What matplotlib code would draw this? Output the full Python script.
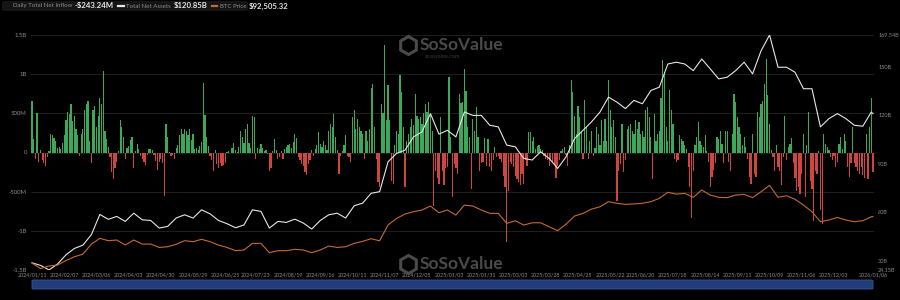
import numpy as np
import matplotlib
matplotlib.use("Agg")
import matplotlib.pyplot as plt
from matplotlib.patches import FancyBboxPatch, Circle
from matplotlib.lines import Line2D

plt.rcParams['font.family'] = ['Lato', 'DejaVu Sans']

# Daily total net inflow ($M), one value per trading day, 2024/01/11 .. 2026/01/06
net_inflow = [
    655, 175, -80, 500, -125, 30, -100, -140, -170, -60,
    20, 240, 220, 190, 150, 60, 70, 50, 120, 220,
    410, 520, 490, 620, 400, 470, 300, 220, -40, 240,
    300, 540, 620, 660, 150, -140, 540, 590, 330, 470,
    690, 620, 1040, 280, 170, 70, -60, -250, -340, -200,
    -120, 20, 420, 330, 200, -80, 60, 80, 160, 200,
    -200, 20, 110, 40, -40, -80, -120, -160, -30, 50,
    50, 30, -30, -110, -220, -120, -80, -140, -560, 370,
    200, 10, -40, -30, -80, 60, 90, 220, 300, 240,
    300, 280, 220, 300, 160, 240, 50, 60, 30, 80,
    130, 890, 480, 200, 80, -40, -100, -230, 30, -150,
    -200, -130, -170, -160, -130, 10, 20, -10, 60, 120,
    30, 10, 70, 280, 200, 120, 300, 360, 120, 60,
    470, 450, -80, 60, 40, 110, 60, 20, 30, -20,
    -230, -200, 20, 170, 30, -80, -60, 20, -80, 40,
    70, 90, 110, 60, 130, 240, 180, -60, -100, -150,
    -170, -250, -290, -150, -100, 30, -40, 40, 90, 260,
    110, 70, 150, 90, 30, 280, 370, 330, 490, 200,
    30, -270, -40, 20, 100, 220, -40, -60, -120, 450,
    540, 300, 430, 320, 280, 240, -80, 280, 150, 300,
    820, 880, 330, -80, -380, -440, 620, 500, 1370, 410,
    860, 410, -360, -400, 90, 280, 240, 990, 770, 320,
    -440, 150, 240, 320, 430, 350, 750, 470, 430, 450,
    370, 510, 620, 520, 640, 490, 280, -680, -230, -320,
    -400, 450, -240, -420, -200, -180, 970, 200, -570, -150,
    -200, -280, 750, 630, 640, 1070, 790, 330, 200, -460,
    430, 280, 580, 200, -230, -130, -120, 180, -170, 170,
    -190, -230, -100, 70, -60, -40, -80, -120, -300, -440,
    -1140, -490, -120, -150, -190, -300, -340, -380, -420, -280,
    -400, -100, -170, 260, 260, 150, 200, 50, 80, 90,
    50, 30, -40, -80, -100, -170, -80, -120, -150, -320,
    -170, -100, 20, 50, 70, -30, -170, 90, 920, 770,
    470, 240, 600, 450, 280, -80, 670, 320, -80, 150,
    280, -40, 60, 320, 240, 100, 410, 150, 430, 150,
    920, 540, 320, 410, 200, -620, -230, -150, 370, -250,
    -100, 300, 340, 370, 280, 240, 410, 300, 390, 240,
    280, 200, 540, 580, 450, 200, -340, 490, 150, 240,
    280, 700, 1180, 1030, 320, 150, 800, 540, 370, -80,
    -120, -100, 220, 175, 150, 90, 40, -180, -440, -830,
    -230, 90, 200, 390, 150, 90, 70, 220, 20, -120,
    -440, -310, -220, -140, 200, 170, 280, 110, -140, 280,
    280, -120, -230, 240, 750, 640, 450, 320, 240, 90,
    200, 70, -80, -310, -400, 240, -270, -310, 520, 450,
    620, 660, 880, 1200, 730, 370, 30, -60, -230, 90,
    -190, -230, -420, -60, 470, -100, 70, 110, 180, -140,
    -330, -490, -440, -530, -270, 240, -570, 100, 520, -360,
    -460, -870, -230, -270, 20, -740, -910, 240, 110, 70,
    30, -60, -100, -50, -190, -120, 110, 200, 50, 240,
    150, -190, -310, -140, 330, -140, -190, -230, -270, -190,
    -290, -320, 240, -340, 320, 690, -243.24,
]

# Total net assets ($B), every 5th trading day plus the last day
total_net_assets = [
    28.6, 27.0, 24.2, 27.8, 33.5, 37.5, 39.5, 46.0, 58.5, 55.5,
    57.3, 54.2, 59.3, 55.2, 54.8, 50.1, 51.1, 56.3, 58.3, 56.3,
    61.4, 58.9, 54.8, 52.8, 50.3, 52.0, 61.4, 60.4, 50.1, 54.2,
    53.6, 55.6, 53.2, 49.5, 54.8, 58.3, 59.3, 56.3, 63.9, 65.5,
    71.6, 72.6, 91.1, 96.3, 98.3, 106.5, 109.6, 120.9, 108.2, 110.6,
    106.5, 121.9, 119.8, 119.8, 113.7, 112.7, 101.4, 100.4, 93.2, 92.2,
    97.3, 93.2, 87.0, 94.2, 105.5, 110.6, 115.8, 121.9, 131.1, 128.0,
    124.0, 129.1, 127.0, 135.2, 137.3, 151.6, 152.7, 151.6, 147.5, 154.7,
    148.6, 142.4, 143.4, 147.5, 152.7, 145.5, 159.8, 169.5, 149.6, 149.6,
    146.5, 136.3, 136.3, 112.7, 117.8, 120.9, 117.8, 113.7, 113.1, 121.9,
    120.85,
]

# BTC price ($K), same sampling
btc_price = [
    45.5, 40.0, 42.5, 43.5, 48.0, 51.9, 54.5, 64.7, 70.5, 68.1,
    68.8, 63.7, 68.8, 64.7, 64.7, 61.3, 62.0, 64.4, 68.1, 67.1,
    69.5, 67.1, 63.7, 61.3, 58.0, 58.7, 65.4, 65.4, 56.0, 58.0,
    58.0, 59.4, 58.7, 56.0, 58.7, 62.7, 61.3, 62.0, 65.4, 67.4,
    70.1, 68.0, 84.0, 90.6, 95.0, 97.4, 99.1, 103.1, 96.4, 99.1,
    94.0, 104.1, 103.1, 99.1, 95.7, 95.7, 85.6, 88.3, 83.9, 86.2,
    86.2, 82.2, 78.2, 84.9, 93.0, 95.7, 100.0, 102.4, 107.5, 105.9,
    104.8, 105.2, 105.9, 107.5, 110.9, 117.0, 115.2, 115.9, 111.9, 119.3,
    114.2, 111.9, 111.6, 114.2, 114.9, 111.6, 117.6, 124.0, 111.9, 113.5,
    109.9, 104.1, 97.4, 87.3, 89.0, 91.6, 89.0, 87.3, 88.3, 92.3,
    92.505,
]

date_labels = [
    '2024/01/11', '2024/02/07', '2024/03/06', '2024/04/03', '2024/04/30',
    '2024/05/29', '2024/06/25', '2024/07/23', '2024/08/19', '2024/09/16',
    '2024/10/11', '2024/11/07', '2024/12/05', '2025/01/03', '2025/01/31',
    '2025/03/03', '2025/03/28', '2025/04/25', '2025/05/22', '2025/06/20',
    '2025/07/18', '2025/08/14', '2025/09/11', '2025/10/09', '2025/11/06',
    '2025/12/03', '2026/01/06',
]

left_ticks = [-1500, -1000, -500, 0, 500, 1000, 1500]
left_labels = ['-1.5B', '-1B', '-500M', '0', '500M', '1B', '1.5B']
right_ticks = [24.15, 30, 60, 90, 120, 150, 169.54]
right_labels = ['24.15B', '30B', '60B', '90B', '120B', '150B', '169.54B']

BG = '#000000'
GREEN = '#3aa95a'
RED = '#cf4541'
WHITE = '#e6e6e6'
ORANGE = '#c46a32'
TXT = '#8c8c8c'
GRID = '#252525'

W, H = 900, 300
fig = plt.figure(figsize=(9, 3), dpi=100, facecolor=BG)


def fx(px):
    return px / W


def fy(py):
    return 1 - py / H


n = len(net_inflow)
x = np.arange(n)
vals = np.array(net_inflow)

ax = fig.add_axes([fx(31), fy(270), fx(874) - fx(31), fy(35) - fy(270)])
ax.set_facecolor(BG)
ax.bar(x, vals, width=0.72, color=np.where(vals >= 0, GREEN, RED), linewidth=0, zorder=2)
ax.set_ylim(-1500, 1500)
ax.set_xlim(-0.6, n - 0.4)
ax.set_yticks(left_ticks)
ax.set_yticklabels(left_labels)
ax.grid(axis='y', color=GRID, linewidth=0.6, zorder=0)
ax.tick_params(axis='y', colors=TXT, labelsize=4.3, length=0, pad=3)
ax.tick_params(axis='x', colors=TXT, labelsize=3.9, length=0, pad=2)
tick_pos = list(np.round(np.arange(len(date_labels) - 1) * 18.92).astype(int)) + [n - 1]
ax.set_xticks(tick_pos)
ax.set_xticklabels(date_labels)
for s in ax.spines.values():
    s.set_visible(False)

line_x = list(np.arange(0, n, 5)) + [n - 1]

ax2 = ax.twinx()
ax2.plot(line_x, total_net_assets, color=WHITE, linewidth=0.8, zorder=4)
ax2.set_ylim(24.15, 169.54)
ax2.set_yticks(right_ticks)
ax2.set_yticklabels(right_labels)
ax2.tick_params(axis='y', colors=TXT, labelsize=4.0, length=0, pad=3)
for s in ax2.spines.values():
    s.set_visible(False)

ax3 = ax.twinx()
ax3.plot(line_x, btc_price, color=ORANGE, linewidth=0.8, zorder=3)
ax3.set_ylim(38.5, 275.9)
ax3.axis('off')

# legend strip
fig.patches.append(FancyBboxPatch((fx(2), fy(11)), fx(246), fy(1) - fy(11),
                                  boxstyle='round,pad=0,rounding_size=0.004',
                                  transform=fig.transFigure, facecolor='#151515',
                                  edgecolor='none'))
fig.add_artist(Circle((fx(7), fy(6)), 0.0035, transform=fig.transFigure,
                      facecolor='#8a5530', edgecolor='none'))
r = fig.canvas.get_renderer()


def put(px, text, color, size, weight='normal'):
    t = fig.text(fx(px), fy(6), text, color=color, fontsize=size, fontweight=weight,
                 va='center', ha='left')
    bb = t.get_window_extent(renderer=r)
    return px + bb.width


p = put(13, 'Daily Total Net Inflow', TXT, 4.4)
p = put(p + 2, '-$243.24M', WHITE, 5.6, 'bold')
fig.add_artist(Line2D([fx(p + 5), fx(p + 10)], [fy(6), fy(6)], transform=fig.transFigure,
                      color=WHITE, linewidth=1.6))
p = put(p + 13, 'Total Net Assets', TXT, 4.4)
p = put(p + 2, '$120.85B', WHITE, 5.6, 'bold')
fig.add_artist(Line2D([fx(p + 5), fx(p + 10)], [fy(6), fy(6)], transform=fig.transFigure,
                      color=ORANGE, linewidth=1.6))
p = put(p + 13, 'BTC Price', TXT, 4.4)
put(p + 2, '$92,505.32', WHITE, 5.6, 'bold')

# watermarks
for wy in (45, 264):
    fig.add_artist(Line2D([fx(408)], [fy(wy)], transform=fig.transFigure, marker='h',
                          markersize=13, markerfacecolor='none', markeredgecolor='#4a4a4a',
                          markeredgewidth=2.2, linestyle='none'))
    fig.text(fx(420), fy(wy), 'SoSoValue', color='#4a4a4a', fontsize=12.5,
             fontweight='bold', va='center', ha='left')
fig.text(fx(425), fy(57), 'sosovalue.com', color='#3a3a3a', fontsize=4, va='center', ha='left')

# scrollbar
fig.patches.append(FancyBboxPatch((fx(32), fy(289)), fx(873) - fx(32), fy(280) - fy(289),
                                  boxstyle='round,pad=0,rounding_size=0.002',
                                  transform=fig.transFigure, facecolor='#213c78',
                                  edgecolor='#35569a', linewidth=0.6))

fig.savefig('out.png', dpi=100, facecolor=BG)
